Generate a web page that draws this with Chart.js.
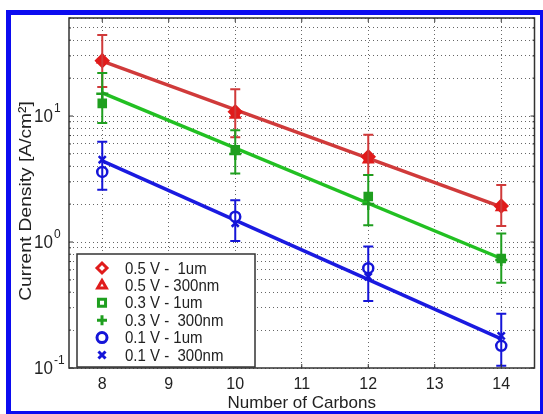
<!DOCTYPE html>
<html>
<head>
<meta charset="utf-8">
<script src="https://cdn.jsdelivr.net/npm/chart.js@4/dist/chart.umd.min.js"></script>
<style>
  html, body { margin: 0; padding: 0; background: #fff; }
  #wrap { width: 543px; height: 414px; }
</style>
</head>
<body>
<div id="wrap"><canvas id="chart" width="543" height="414"></canvas></div>
<script>
const carbons = [8, 10, 12, 14];
const xTicks = [8, 9, 10, 11, 12, 13, 14];
const yDecades = [0.1, 1, 10];
const yGrid = [0.1, 0.2, 0.3, 0.4, 0.5, 0.6, 0.7, 0.8, 0.9,
               1, 2, 3, 4, 5, 6, 7, 8, 9,
               10, 20, 30, 40, 50, 60];

// measured points
const v05_1um  = [27.5, 10.8, 4.75, 1.93];
const v05_300  = [28, 10.2, 4.5, 1.88];
const v03_1um  = [12.6, 5.4, 2.3, 0.74];
const v03_300  = [15, 5.0, 2.0, 0.72];
const v01_1um  = [3.6, 1.59, 0.62, 0.15];
const v01_300  = [4.5, 1.41, 0.53, 0.18];

// error bar ranges
const err05Low  = [17, 6.8, 3.4, 1.34];
const err05High = [44, 16.3, 7.1, 2.83];
const err03Low  = [8.8, 3.5, 1.36, 0.475];
const err03High = [22, 7.7, 3.4, 1.17];
const err01Low  = [2.6, 1.02, 0.34, 0.104];
const err01High = [6.25, 2.15, 0.92, 0.27];

// fitted lines, ends at 8 and 14 carbons
const fitX = [8, 14];
const fit05 = [27.3, 1.9];
const fit03 = [15.3, 0.74];
const fit01 = [4.4, 0.17];

const RED = '#e01b1b', RED_LINE = '#d03a3a';
const GREEN = '#1f9f1f', GREEN_LINE = '#22c022';
const BLUE = '#1515d8', BLUE_LINE = '#1a1ae0';
const FONT = "'Liberation Sans', Arial, sans-serif";
const YTITLE = 'Current Density [A/cm\u00b2]';

const pts = (ys) => carbons.map((c, i) => ({x: c, y: ys[i]}));
const fitPts = (ys) => fitX.map((c, i) => ({x: c, y: ys[i]}));

const markerSets = [
  {label: '0.5 V -  1um',    data: v05_1um, style: 'rectRot',  color: RED,   fill: RED,     r: 6},
  {label: '0.5 V - 300nm',   data: v05_300, style: 'triangle', color: RED,   fill: RED,     r: 5},
  {label: '0.3 V - 1um',     data: v03_1um, style: 'rect',     color: GREEN, fill: GREEN,   r: 5},
  {label: '0.3 V -  300nm',  data: v03_300, style: 'cross',    color: GREEN, fill: GREEN,   r: 6},
  {label: '0.1 V - 1um',     data: v01_1um, style: 'circle',   color: BLUE,  fill: '#fff',  r: 5},
  {label: '0.1 V -  300nm',  data: v01_300, style: 'crossRot', color: BLUE,  fill: BLUE,    r: 5}
];

const errSets = [
  {low: err05Low, high: err05High, color: RED_LINE},
  {low: err03Low, high: err03High, color: GREEN},
  {low: err01Low, high: err01High, color: BLUE}
];

const datasets = markerSets.map((m, i) => ({
  label: m.label,
  data: pts(m.data),
  showLine: false,
  pointStyle: m.style,
  pointRadius: m.r,
  pointBorderWidth: 2.5,
  pointBorderColor: m.color,
  pointBackgroundColor: m.fill,
  order: 1
}));

[[fit05, RED_LINE], [fit03, GREEN_LINE], [fit01, BLUE_LINE]].forEach(([ys, col]) => {
  datasets.push({
    label: 'fit',
    data: fitPts(ys),
    showLine: true,
    borderColor: col,
    borderWidth: 3.5,
    pointRadius: 0,
    order: 5
  });
});

const errorBars = {
  id: 'errorBars',
  afterDatasetsDraw(chart) {
    const {ctx, scales: {x, y}} = chart;
    errSets.forEach(e => {
      ctx.save();
      ctx.strokeStyle = e.color;
      ctx.lineWidth = 2;
      carbons.forEach((c, i) => {
        const px = x.getPixelForValue(c);
        const top = y.getPixelForValue(e.high[i]);
        const bot = y.getPixelForValue(e.low[i]);
        ctx.beginPath();
        ctx.moveTo(px, top); ctx.lineTo(px, bot);
        ctx.moveTo(px - 5, top); ctx.lineTo(px + 5, top);
        ctx.moveTo(px - 5, bot); ctx.lineTo(px + 5, bot);
        ctx.stroke();
      });
      ctx.restore();
    });
  }
};

const frameAndLabels = {
  id: 'frameAndLabels',
  afterDraw(chart) {
    const {ctx, chartArea: a, scales: {x, y}} = chart;
    ctx.save();
    // plot box
    ctx.strokeStyle = '#333';
    ctx.lineWidth = 1.5;
    ctx.strokeRect(a.left, a.top, a.right - a.left, a.bottom - a.top);
    // inner ticks
    ctx.lineWidth = 1;
    xTicks.forEach(v => {
      const px = x.getPixelForValue(v);
      ctx.beginPath();
      ctx.moveTo(px, a.bottom); ctx.lineTo(px, a.bottom - 4);
      ctx.moveTo(px, a.top); ctx.lineTo(px, a.top + 4);
      ctx.stroke();
    });
    yGrid.forEach(v => {
      const py = y.getPixelForValue(v);
      const len = yDecades.includes(v) ? 4 : 2;
      ctx.beginPath();
      ctx.moveTo(a.left, py); ctx.lineTo(a.left + len, py);
      ctx.moveTo(a.right, py); ctx.lineTo(a.right - len, py);
      ctx.stroke();
    });
    // y tick labels 10^n
    ctx.fillStyle = '#222';
    yDecades.forEach(v => {
      const py = y.getPixelForValue(v);
      const exp = Math.round(Math.log10(v));
      ctx.save();
      ctx.translate(a.left - 16, py + 1);
      ctx.scale(1, 1.1);
      ctx.font = '17px ' + FONT;
      ctx.textAlign = 'right';
      ctx.textBaseline = 'middle';
      ctx.fillText('10', 0, 0);
      ctx.font = '12px ' + FONT;
      ctx.textAlign = 'left';
      ctx.fillText(String(exp), 1, -8);
      ctx.restore();
    });

    // y axis title, stretched along its length like the source
    ctx.save();
    ctx.translate(26, 201);
    ctx.rotate(-Math.PI / 2);
    ctx.scale(1.13, 1);
    ctx.font = '17px ' + FONT;
    ctx.textAlign = 'center';
    ctx.textBaseline = 'middle';
    ctx.fillText(YTITLE, 0, 0);
    ctx.restore();

    // legend
    const lx = 77, ly = 254, lw = 178, lh = 113;
    ctx.fillStyle = '#fff';
    ctx.fillRect(lx, ly, lw, lh);
    ctx.strokeStyle = '#333';
    ctx.lineWidth = 1.5;
    ctx.strokeRect(lx, ly, lw, lh);
    markerSets.forEach((m, i) => {
      const ry = 268 + i * 17.4;
      ctx.save();
      ctx.strokeStyle = m.color;
      ctx.lineWidth = 3;
      ctx.fillStyle = (m.style === 'cross' || m.style === 'crossRot') ? m.color : '#fff';
      Chart.helpers.drawPoint(ctx, {pointStyle: m.style, radius: 5, borderWidth: 3, rotation: 0}, 102, ry);
      ctx.restore();
      ctx.save();
      ctx.translate(125, ry + 1);
      ctx.scale(1, 1.12);
      ctx.fillStyle = '#222';
      ctx.font = '15px ' + FONT;
      ctx.textAlign = 'left';
      ctx.textBaseline = 'middle';
      ctx.fillText(m.label, 0, 0);
      ctx.restore();
    });

    // blue outer frame
    ctx.fillStyle = '#0c0cf0';
    ctx.fillRect(6, 10, 537, 5);
    ctx.fillRect(6, 10, 5, 404);
    ctx.fillRect(540, 10, 3, 404);
    ctx.fillRect(6, 411, 537, 3);
    ctx.restore();
  }
};

new Chart(document.getElementById('chart').getContext('2d'), {
  type: 'scatter',
  data: { datasets: datasets },
  options: {
    responsive: false,
    animation: false,
    devicePixelRatio: 1,
    layout: { padding: { left: 0, top: 18, right: 4, bottom: 0 } },
    plugins: {
      legend: { display: false },
      tooltip: { enabled: false }
    },
    scales: {
      x: {
        type: 'linear',
        min: 7.5,
        max: 14.5,
        afterBuildTicks: s => { s.ticks = xTicks.map(v => ({value: v})); },
        afterFit: s => { s.height = 46; },
        grid: { color: '#666', lineWidth: 1, drawTicks: false },
        border: { display: false, dash: [1, 3] },
        ticks: { font: { size: 16, family: FONT }, color: '#222', padding: 7, autoSkip: false, maxRotation: 0 },
        title: { display: true, text: 'Number of Carbons', color: '#222',
                 font: { size: 17, family: FONT }, padding: { top: 0, bottom: 0 } }
      },
      y: {
        type: 'logarithmic',
        min: 0.1,
        max: 60,
        afterBuildTicks: s => { s.ticks = yGrid.map(v => ({value: v})); },
        afterFit: s => { s.width = 69; },
        grid: { color: '#666', lineWidth: 1, drawTicks: false },
        border: { display: false, dash: [1, 3] },
        ticks: { display: false, autoSkip: false },
        title: { display: false }
      }
    }
  },
  plugins: [errorBars, frameAndLabels]
});
</script>
</body>
</html>
